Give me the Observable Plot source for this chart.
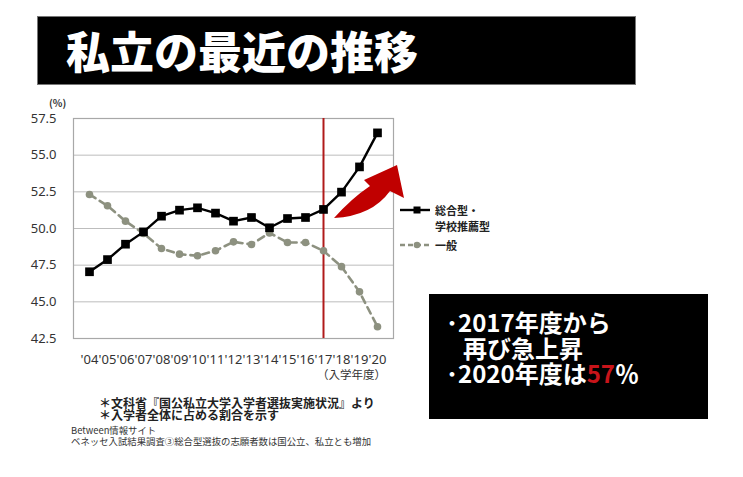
<!DOCTYPE html>
<html>
<head>
<meta charset="utf-8">
<script src="https://cdn.jsdelivr.net/npm/d3@7"></script>
<script src="https://cdn.jsdelivr.net/npm/@observablehq/plot@0.6"></script>
<style>
  html, body { margin: 0; padding: 0; background: #fff; }
  #wrap { position: relative; width: 743px; height: 477px; overflow: hidden; font-family: "Noto Sans CJK JP", "Noto Sans", sans-serif; }
  #wrap > svg { position: absolute; left: 0; top: 0; }
  .abs { position: absolute; white-space: nowrap; }
  #titlebox { left: 37px; top: 16px; width: 599px; height: 69px; background: #000; border: 1px solid #777; box-sizing: border-box; }
  #title { left: 66px; top: 16px; height: 69px; line-height: 69px; color: #fff; font-size: 44px; font-weight: 900; letter-spacing: 0px; }
  #callout { left: 429px; top: 294px; width: 279px; height: 125px; background: #000; }
  .cl { color: #fff; font-size: 24px; font-weight: 700; line-height: 25.5px; }
  .red { color: #c8141a; }
  .note1 { font-size: 12px; font-weight: 700; color: #222; line-height: 11.8px; }
  .note2 { font-size: 9.4px; color: #333; line-height: 11px; }
  .leg { font-size: 11px; font-weight: 700; color: #222; line-height: 16px; }
</style>
</head>
<body>
<div id="wrap"></div>
<script>
// ---- data ----
const years = ["'04","'05","'06","'07","'08","'09","'10","'11","'12","'13","'14","'15","'16","'17","'18","'19","'20"];
const sogo  = [47.05, 47.88, 48.93, 49.77, 50.84, 51.25, 51.41, 51.05, 50.5, 50.75, 50.05, 50.68, 50.75, 51.3, 52.48, 54.2, 56.52];
const ippan = [52.32, 51.55, 50.5, 49.66, 48.64, 48.25, 48.14, 48.48, 49.09, 48.91, 49.7, 49.05, 49.05, 48.48, 47.4, 45.68, 43.3];
const yTicks = [42.5, 45.0, 47.5, 50.0, 52.5, 55.0, 57.5];
const markYear = ["'17"];

const rowsSogo = years.map((y, i) => ({year: y, value: sogo[i]}));
const rowsIppan = years.map((y, i) => ({year: y, value: ippan[i]}));

const chart = Plot.plot({
  width: 743,
  height: 477,
  marginLeft: 73,
  marginRight: 350,
  marginTop: 118,
  marginBottom: 139,
  style: {fontFamily: "'Noto Sans', sans-serif", background: "transparent", overflow: "visible"},
  x: {type: "point", domain: years, padding: 0.48},
  y: {domain: [42.5, 57.5]},
  marks: [
    Plot.gridY(yTicks, {stroke: "#bdbdbd", strokeOpacity: 1, strokeWidth: 1}),
    Plot.frame({stroke: "#a8a8a8", strokeWidth: 1.2}),
    Plot.axisY(yTicks, {tickSize: 0, tickPadding: 17, tickFormat: d => d.toFixed(1), fontSize: 13, fill: "#333", label: null}),
    Plot.axisX({tickSize: 0, tickPadding: 16, fontSize: 13, fill: "#333", label: null}),
    Plot.ruleX(markYear, {stroke: "#b01a1a", strokeWidth: 2}),
    Plot.line(rowsIppan, {x: "year", y: "value", stroke: "#8d9180", strokeWidth: 2.6, strokeDasharray: "7,5", curve: "linear"}),
    Plot.dot(rowsIppan, {x: "year", y: "value", r: 3.8, fill: "#8d9180", stroke: "none"}),
    Plot.line(rowsSogo, {x: "year", y: "value", stroke: "#000", strokeWidth: 2.4}),
    Plot.dot(rowsSogo, {x: "year", y: "value", symbol: "square", r: 4.9, fill: "#000", stroke: "none"})
  ]
});

const wrap = document.getElementById("wrap");
wrap.appendChild(chart);

function add(html) { wrap.insertAdjacentHTML("beforeend", html); }

// Title
add(`<div class="abs" id="titlebox"></div>`);
add(`<div class="abs" id="title">私立の最近の推移</div>`);

// (%) label and year label
add(`<div class="abs" style="left:49px;top:95px;font-size:10px;font-weight:700;color:#333;">(%)</div>`);
add(`<div class="abs" style="left:317px;top:366px;font-size:11.5px;color:#333;">（入学年度）</div>`);

// Arrow annotation
add(`<svg class="abs" style="left:0;top:0;" width="743" height="477">
  <path d="M334,218 Q352,198 370,186 L364,180 L397,165 L404,198 L390,191 Q372,216 334,218 Z" fill="#c00000"/>
</svg>`);

// Legend
add(`<svg class="abs" style="left:398px;top:200px;" width="36" height="56">
  <line x1="2" x2="32" y1="10" y2="10" stroke="#000" stroke-width="2.4"/>
  <rect x="15.5" y="6.5" width="7" height="7" fill="#000"/>
  <line x1="2" x2="32" y1="45" y2="45" stroke="#8d9180" stroke-width="2.4" stroke-dasharray="5,3"/>
  <circle cx="19" cy="45" r="3.3" fill="#8d9180"/>
</svg>`);
add(`<div class="abs leg" style="left:435px;top:202px;">総合型・<br>学校推薦型</div>`);
add(`<div class="abs leg" style="left:435px;top:237px;">一般</div>`);

// Callout
add(`<div class="abs" id="callout"></div>`);
add(`<div class="abs cl" style="left:446px;top:309px;">･2017年度から<br><span style="padding-left:17px">再び急上昇</span><br>･2020年度は<span class="red">57</span>％</div>`);

// Notes
add(`<div class="abs note1" style="left:99px;top:397px;">＊文科省『国公私立大学入学者選抜実施状況』より<br>＊入学者全体に占める割合を示す</div>`);
add(`<div class="abs note2" style="left:71px;top:425px;">Between情報サイト<br>ベネッセ入試結果調査③総合型選抜の志願者数は国公立、私立とも増加</div>`);
</script>
</body>
</html>
